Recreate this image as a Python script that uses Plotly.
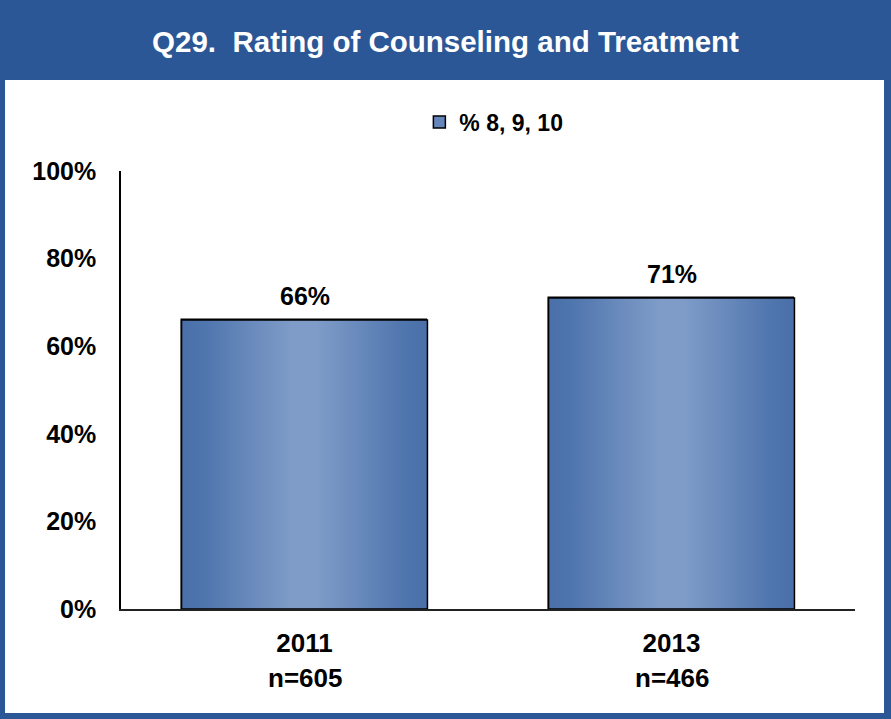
import plotly.graph_objects as go

categories = ["2011", "2013"]
sample_sizes = ["n=605", "n=466"]
values = [66, 71]
series_name = "% 8, 9, 10"
y_ticks = [0, 20, 40, 60, 80, 100]
title_text = "Q29.  Rating of Counseling and Treatment"

BLUE = "#2B5797"
FONT = "Liberation Sans, Arial, sans-serif"
BAR_W = 0.67
xpos = list(range(len(categories)))

fig = go.Figure()

# bar trace (legend + base)
fig.add_trace(go.Bar(
    x=xpos, y=values, width=BAR_W, name=series_name,
    marker=dict(color="#6585BB", line=dict(color="black", width=1.5)),
    hoverinfo="skip", showlegend=True,
))

# gradient overlays built from the same data
for i, v in zip(xpos, values):
    x0, x1 = i - BAR_W / 2, i + BAR_W / 2
    fig.add_trace(go.Scatter(
        x=[x0, x0, x1, x1, x0], y=[0, v, v, 0, 0],
        mode="lines", fill="toself",
        line=dict(color="black", width=1.5),
        fillgradient=dict(type="horizontal", colorscale=[
            [0.0, "#4A6FA9"], [0.1, "#5076AE"], [0.45, "#7F9CC8"],
            [0.55, "#7F9CC8"], [0.9, "#5076AE"], [1.0, "#4A6FA9"]]),
        hoverinfo="skip", showlegend=False,
    ))

annotations = []
for i, v in zip(xpos, values):
    annotations.append(dict(
        x=i, y=v, xref="x", yref="y", text=f"{v}%", showarrow=False,
        yanchor="bottom", yshift=8,
        font=dict(family=FONT, size=25, color="black", weight="bold"),
    ))
for i, n in zip(xpos, sample_sizes):
    annotations.append(dict(
        x=i, y=-0.157, xref="x", yref="paper", text=n, showarrow=False,
        yanchor="middle",
        font=dict(family=FONT, size=26, color="black", weight="bold"),
    ))

shapes = [dict(type="rect", xref="paper", yref="paper",
               x0=-0.158, x1=1.0395, y0=-0.2374, y1=1.2078,
               fillcolor="white", line=dict(width=0), layer="below")]

fig.update_layout(
    width=891, height=719,
    margin=dict(l=121, r=36, t=171, b=110),
    paper_bgcolor=BLUE, plot_bgcolor="white",
    title=dict(text=title_text, x=0.5, xanchor="center", y=1 - 42 / 719,
               yanchor="middle",
               font=dict(family=FONT, size=29.5, color="white", weight="bold")),
    showlegend=True,
    legend=dict(orientation="h", x=0.508, xanchor="center", y=1.112,
                yanchor="middle", bgcolor="rgba(0,0,0,0)",
                font=dict(family=FONT, size=23, color="black", weight="bold"),
                itemwidth=30),
    xaxis=dict(range=[-0.5, 1.5], tickvals=xpos, ticktext=categories,
               showgrid=False, zeroline=False, showline=True,
               linecolor="#222222", linewidth=2, ticks="",
               tickfont=dict(family=FONT, size=26, color="black", weight="bold"),
               ticklabelstandoff=10, fixedrange=True),
    yaxis=dict(range=[0, 100], tickvals=y_ticks,
               ticktext=[f"{t}%" for t in y_ticks],
               showgrid=False, zeroline=False, showline=True,
               linecolor="black", linewidth=1.5, ticks="",
               tickfont=dict(family=FONT, size=25, color="black", weight="bold"),
               ticklabelstandoff=18, fixedrange=True),
    annotations=annotations, shapes=shapes, bargap=0,
)

fig.write_html("out.html", config={"displayModeBar": False},
               post_script="document.body.style.margin='0';document.body.style.padding='0';")
